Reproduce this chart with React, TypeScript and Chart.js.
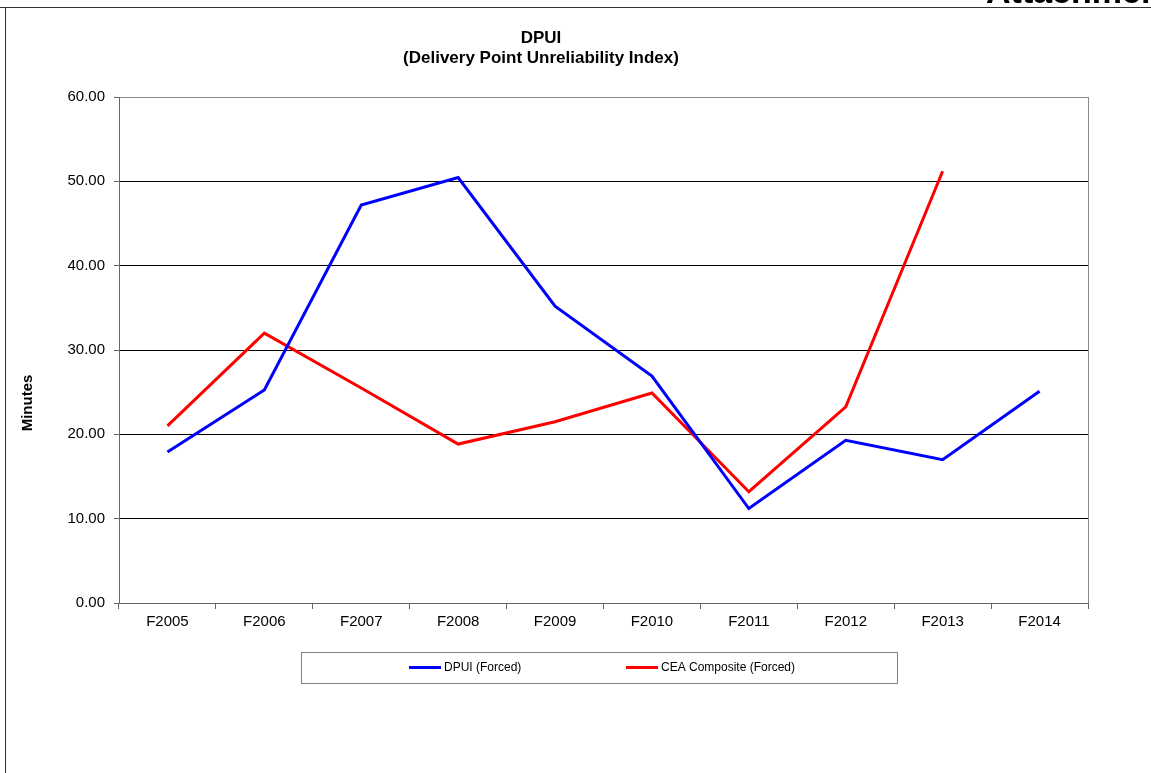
import React, { useEffect, useRef } from "react";
import { Chart, registerables } from "chart.js";

Chart.register(...registerables);

const categories = ["F2005", "F2006", "F2007", "F2008", "F2009", "F2010", "F2011", "F2012", "F2013", "F2014"];
const dpuiForced = [17.9, 25.25, 47.2, 50.45, 35.2, 26.9, 11.2, 19.3, 17.0, 25.1];
const ceaComposite = [21.0, 32.0, 25.5, 18.85, 21.5, 24.9, 13.2, 23.25, 51.2, null];
const titleLines = ["DPUI", "(Delivery Point Unreliability Index)"];
const yAxisTitle = "Minutes";
const seriesLabels = ["DPUI (Forced)", "CEA Composite (Forced)"];
const FONT = "'Liberation Sans', Arial, sans-serif";

const decorPlugin = {
  id: "decor",
  beforeDatasetsDraw(chart: any) {
    const { ctx, chartArea } = chart;
    ctx.save();
    ctx.strokeStyle = "#8a8a8a";
    ctx.lineWidth = 1;
    ctx.beginPath();
    ctx.moveTo(Math.round(chartArea.right) + 0.5, chartArea.top);
    ctx.lineTo(Math.round(chartArea.right) + 0.5, chartArea.bottom);
    ctx.stroke();
    ctx.restore();
  },
  afterDraw(chart: any) {
    const { ctx } = chart;
    ctx.save();
    // y axis title
    ctx.translate(28, 403);
    ctx.rotate(-Math.PI / 2);
    ctx.font = `bold 15px ${FONT}`;
    ctx.fillStyle = "#000";
    ctx.textAlign = "center";
    ctx.textBaseline = "middle";
    ctx.fillText(yAxisTitle, 0, 0);
    ctx.restore();

    // chart title
    ctx.save();
    ctx.fillStyle = "#000";
    ctx.font = `bold 17px ${FONT}`;
    ctx.textAlign = "center";
    ctx.textBaseline = "middle";
    titleLines.forEach((t, i) => ctx.fillText(t, 541, 38 + i * 20));
    ctx.restore();

    // legend box
    ctx.save();
    const bx = 301.5, by = 652.5, bw = 596, bh = 31;
    ctx.fillStyle = "#fff";
    ctx.fillRect(bx, by, bw, bh);
    ctx.strokeStyle = "#808080";
    ctx.lineWidth = 1;
    ctx.strokeRect(bx, by, bw, bh);
    const starts = [409, 626];
    const cy = 667.5;
    chart.data.datasets.forEach((ds: any, i: number) => {
      const x = starts[i];
      ctx.strokeStyle = ds.borderColor;
      ctx.lineWidth = 3;
      ctx.beginPath();
      ctx.moveTo(x, cy);
      ctx.lineTo(x + 32, cy);
      ctx.stroke();
      ctx.fillStyle = "#000";
      ctx.font = `12px ${FONT}`;
      ctx.textAlign = "left";
      ctx.textBaseline = "middle";
      ctx.fillText(ds.label, x + 35, cy);
    });
    ctx.restore();
  },
};

export default function App() {
  const ref = useRef<HTMLCanvasElement | null>(null);

  useEffect(() => {
    if (!ref.current) return;
    const chart = new Chart(ref.current, {
      type: "line",
      data: {
        labels: categories,
        datasets: [
          {
            label: seriesLabels[0],
            data: dpuiForced,
            borderColor: "#0000ff",
            backgroundColor: "#0000ff",
            borderWidth: 3,
            pointRadius: 0,
            tension: 0,
          },
          {
            label: seriesLabels[1],
            data: ceaComposite,
            borderColor: "#ff0000",
            backgroundColor: "#ff0000",
            borderWidth: 3,
            pointRadius: 0,
            tension: 0,
          },
        ],
      },
      options: {
        responsive: false,
        animation: false,
        layout: { padding: { left: 0, right: 63, top: 97, bottom: 0 } },
        plugins: {
          legend: { display: false },
          tooltip: { enabled: false },
          title: { display: false },
        },
        scales: {
          x: {
            offset: true,
            grid: {
              display: true,
              offset: true,
              drawOnChartArea: false,
              drawTicks: true,
              tickLength: 6,
              color: "#666",
              tickColor: "#666",
            },
            border: { display: true, color: "#666", width: 1 },
            ticks: {
              color: "#000",
              font: { family: FONT, size: 15 },
              padding: 4,
              autoSkip: false,
              maxRotation: 0,
            },
            afterFit: (scale: any) => {
              scale.height = 170;
            },
          },
          y: {
            min: 0,
            max: 60,
            grid: {
              color: (c: any) => (c.tick && c.tick.value === 60 ? "#8a8a8a" : "#000"),
              lineWidth: 1,
              drawTicks: true,
              tickLength: 5,
              tickColor: "#666",
            },
            border: { display: true, color: "#666", width: 1 },
            ticks: {
              stepSize: 10,
              color: "#000",
              font: { family: FONT, size: 15 },
              padding: 9,
              callback: (v: any) => Number(v).toFixed(2),
            },
            afterFit: (scale: any) => {
              scale.width = 119;
            },
          },
        },
      },
      plugins: [decorPlugin],
    });
    return () => chart.destroy();
  }, []);

  return (
    <div
      style={{
        position: "fixed",
        left: 0,
        top: 0,
        width: 1151,
        height: 773,
        overflow: "hidden",
        background: "#fff",
      }}
    >
      <canvas ref={ref} width={1151} height={773} style={{ display: "block", position: "absolute", left: 0, top: 0 }} />
      <div style={{ position: "absolute", left: 0, top: 7, width: 1151, height: 1, background: "#333" }} />
      <div style={{ position: "absolute", left: 5, top: 7, width: 1, height: 766, background: "#333" }} />
      <div
        style={{
          position: "absolute",
          left: 986,
          top: -26,
          fontFamily: FONT,
          fontWeight: "bold",
          fontSize: 34,
          lineHeight: "34px",
          whiteSpace: "nowrap",
          color: "#000",
        }}
      >
        Attachment
      </div>
    </div>
  );
}
